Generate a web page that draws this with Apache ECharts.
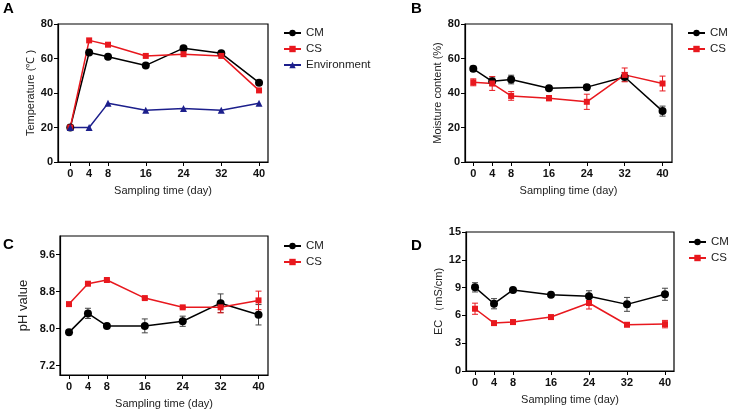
<!DOCTYPE html>
<html>
<head>
<meta charset="utf-8">
<script src="https://cdn.jsdelivr.net/npm/echarts@6/dist/echarts.min.js"></script>
<style>
  html, body { margin: 0; padding: 0; background: #fff; }
  #main { width: 736px; height: 416px; }
</style>
</head>
<body>
<div id="main"></div>
<script>
// sampling days
var days = [0, 4, 8, 16, 24, 32, 40];
var xTicks = [0, 4, 8, 16, 24, 32, 40];
var phTicks = [7.2, 8.0, 8.8, 9.6];

// A - temperature
var tempCM = [20, 63.5, 61, 56, 66, 63, 46];
var tempCS = [20, 70.5, 68, 61.5, 62.5, 61.5, 41.5];
var tempEnv = [20, 20, 34, 30, 31, 30, 34];

// B - moisture
var moistCM = [54, 46.8, 47.8, 42.8, 43.4, 49.3, 29.5];
var moistCMErr = [1.5, 2.5, 2.5, 1.2, 1.5, 2.5, 2.9];
var moistCS = [46.2, 45.5, 38.3, 37, 34.9, 50.5, 45.5];
var moistCSErr = [2, 4, 2.5, 1.5, 4.4, 4, 4.3];

// C - pH
var phCM = [7.92, 8.33, 8.06, 8.06, 8.16, 8.55, 8.30];
var phCMErr = [0.02, 0.11, 0.02, 0.15, 0.11, 0.2, 0.22];
var phCS = [8.53, 8.97, 9.05, 8.66, 8.46, 8.46, 8.61];
var phCSErr = [0.02, 0.02, 0.02, 0.02, 0.02, 0.12, 0.2];

// D - EC
var ecCM = [9.03, 7.26, 8.75, 8.24, 8.06, 7.19, 8.28];
var ecCMErr = [0.5, 0.55, 0.25, 0.2, 0.6, 0.75, 0.65];
var ecCS = [6.72, 5.17, 5.28, 5.82, 7.34, 4.99, 5.06];
var ecCSErr = [0.6, 0.15, 0.2, 0.1, 0.65, 0.1, 0.4];

var RED = '#e8181e';
var NAVY = '#1c1f8c';
var BLACK = '#000';
var FONT = 'Liberation Sans, Arial, sans-serif';

function pairs(vals) {
	return days.map(function(d, i) { return [d, vals[i]]; });
}
function errPairs(vals, errs) {
	return days.map(function(d, i) { return [d, vals[i], errs[i]]; });
}

function lineSeries(name, vals, idx, color, symbol, size) {
	return {
		name: name,
		type: 'line',
		xAxisIndex: idx,
		yAxisIndex: idx,
		data: pairs(vals),
		symbol: symbol,
		symbolSize: size,
		color: color,
		lineStyle: { color: color, width: 1.5 },
		itemStyle: { color: color },
		z: 3
	};
}

function errSeries(vals, errs, idx, color) {
	return {
		type: 'custom',
		xAxisIndex: idx,
		yAxisIndex: idx,
		data: errPairs(vals, errs),
		z: 2,
		silent: true,
		renderItem: function(params, api) {
			var x = api.value(0), y = api.value(1), e = api.value(2);
			var hi = api.coord([x, y + e]);
			var lo = api.coord([x, y - e]);
			var w = 3;
			var st = { stroke: color, lineWidth: 1 };
			return {
				type: 'group',
				children: [
					{ type: 'line', shape: { x1: hi[0], y1: hi[1], x2: lo[0], y2: lo[1] }, style: st },
					{ type: 'line', shape: { x1: hi[0] - w, y1: hi[1], x2: hi[0] + w, y2: hi[1] }, style: st },
					{ type: 'line', shape: { x1: lo[0] - w, y1: lo[1], x2: lo[0] + w, y2: lo[1] }, style: st }
				]
			};
		}
	};
}

function xAxis(idx, min, max) {
	return {
		type: 'value',
		gridIndex: idx,
		min: min,
		max: max,
		name: 'Sampling time (day)',
		nameLocation: 'middle',
		nameGap: 23,
		nameTextStyle: { fontFamily: FONT, fontSize: 11, color: '#222' },
		axisLine: { show: true, onZero: false, lineStyle: { color: BLACK, width: 1.2 } },
		axisTick: { show: true, length: 4, customValues: xTicks, lineStyle: { color: BLACK } },
		axisLabel: { customValues: xTicks, fontFamily: FONT, fontSize: 11, fontWeight: 'bold', color: '#111', margin: 6 },
		splitLine: { show: false }
	};
}

function yAxis(idx, name, gap, opts) {
	var a = {
		type: 'value',
		gridIndex: idx,
		name: name,
		nameLocation: 'middle',
		nameGap: gap,
		nameTextStyle: { fontFamily: FONT, fontSize: 11, color: '#222' },
		axisLine: { show: true, onZero: false, lineStyle: { color: BLACK, width: 1.2 } },
		axisTick: { show: true, length: 4, lineStyle: { color: BLACK } },
		axisLabel: { fontFamily: FONT, fontSize: 11, fontWeight: 'bold', color: '#111', margin: 5 },
		splitLine: { show: false }
	};
	for (var k in opts) {
		if (k === 'axisLabel' || k === 'axisTick' || k === 'nameTextStyle') {
			for (var j in opts[k]) a[k][j] = opts[k][j];
		} else a[k] = opts[k];
	}
	return a;
}

function legend(left, top, names) {
	return {
		orient: 'vertical',
		left: left,
		top: top,
		padding: 0,
		itemWidth: 17,
		itemHeight: 8,
		itemGap: 2,
		data: names,
		selectedMode: false,
		textStyle: { fontFamily: FONT, fontSize: 11.5, color: '#222', lineHeight: 14 }
	};
}

function panelLabel(text, left, top) {
	return {
		text: text,
		left: left,
		top: top,
		padding: 0,
		textStyle: { fontFamily: FONT, fontSize: 15, fontWeight: 'bold', color: '#000' }
	};
}

var chart = echarts.init(document.getElementById('main'), null, { renderer: 'canvas' });

var option = {
	backgroundColor: '#fff',
	animation: false,
	title: [
		panelLabel('A', 3, 1),
		panelLabel('B', 411, 1),
		panelLabel('C', 3, 237),
		panelLabel('D', 411, 238)
	],
	legend: [
		legend(283, 26, ['CM', 'CS', 'Environment']),
		legend(687, 26, ['CM', 'CS']),
		legend(283, 239, ['CM', 'CS']),
		legend(688, 235, ['CM', 'CS'])
	],
	grid: [
		{ left: 58, top: 24, width: 210, height: 138, show: true, borderColor: BLACK, borderWidth: 1.2 },
		{ left: 465, top: 24, width: 207, height: 138, show: true, borderColor: BLACK, borderWidth: 1.2 },
		{ left: 60, top: 236, width: 208, height: 139, show: true, borderColor: BLACK, borderWidth: 1.2 },
		{ left: 466, top: 232, width: 208, height: 139, show: true, borderColor: BLACK, borderWidth: 1.2 }
	],
	xAxis: [
		xAxis(0, -2.6, 41.9),
		xAxis(1, -1.75, 42),
		xAxis(2, -1.9, 42),
		xAxis(3, -1.9, 41.9)
	],
	yAxis: [
		yAxis(0, 'Temperature (℃ )', 20, { min: 0, max: 80, interval: 20 }),
		yAxis(1, 'Moisture content (%)', 22, { min: 0, max: 80, interval: 20 }),
		yAxis(2, 'pH value', 30, {
			min: 7.0, max: 10.0,
			nameTextStyle: { fontSize: 13 },
			axisTick: { customValues: phTicks },
			axisLabel: { customValues: phTicks, formatter: function(v) { return v.toFixed(1); } }
		}),
		yAxis(3, 'EC （mS/cm)', 22, { min: 0, max: 15, interval: 3 })
	],
	series: [
		lineSeries('CM', tempCM, 0, BLACK, 'circle', 8),
		lineSeries('CS', tempCS, 0, RED, 'rect', 6),
		lineSeries('Environment', tempEnv, 0, NAVY, 'triangle', 7),

		errSeries(moistCM, moistCMErr, 1, '#444'),
		errSeries(moistCS, moistCSErr, 1, RED),
		lineSeries('CM', moistCM, 1, BLACK, 'circle', 8),
		lineSeries('CS', moistCS, 1, RED, 'rect', 6),

		errSeries(phCM, phCMErr, 2, '#444'),
		errSeries(phCS, phCSErr, 2, RED),
		lineSeries('CM', phCM, 2, BLACK, 'circle', 8),
		lineSeries('CS', phCS, 2, RED, 'rect', 6),

		errSeries(ecCM, ecCMErr, 3, '#444'),
		errSeries(ecCS, ecCSErr, 3, RED),
		lineSeries('CM', ecCM, 3, BLACK, 'circle', 8),
		lineSeries('CS', ecCS, 3, RED, 'rect', 6)
	]
};

chart.setOption(option);
</script>
</body>
</html>
